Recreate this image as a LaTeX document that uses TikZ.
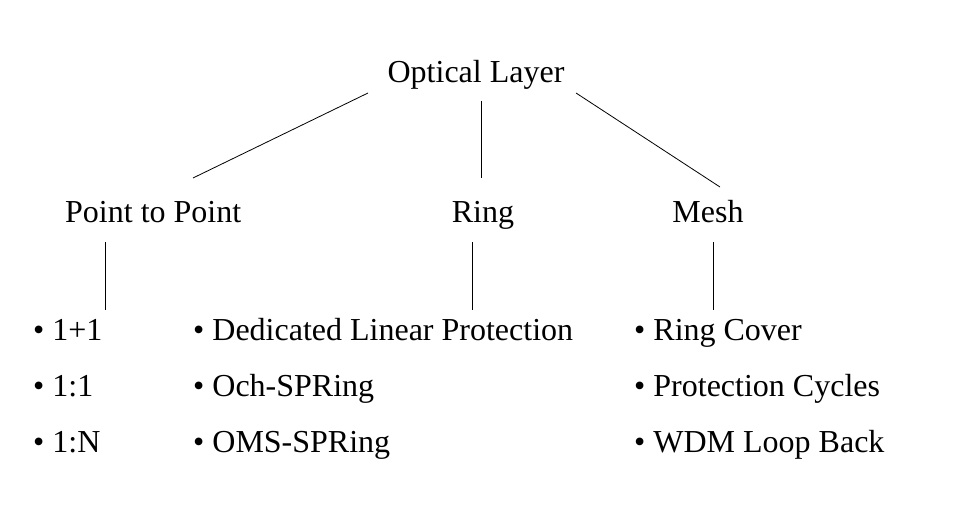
\documentclass[tikz,border=0pt]{standalone}
\usepackage{fontspec}
\setmainfont{Liberation Serif}
\begin{document}
\begin{tikzpicture}[x=1pt,y=-1pt,
  lbl/.style={inner sep=0pt,font=\fontsize{32}{37}\selectfont},
  conn/.style={line width=0.8pt,black}]
\useasboundingbox[fill=white] (0,0) rectangle (959,527);
% headings
\node[lbl,anchor=base] (opt) at (476,82) {Optical Layer};
\node[lbl,anchor=base west] (ptp) at (65,222) {Point to Point};
\node[lbl,anchor=base] (ring) at (483,222) {Ring};
\node[lbl,anchor=base] (mesh) at (708,222) {Mesh};
% items
\node[lbl,anchor=base west] (a1) at (33,340) {• 1+1};
\node[lbl,anchor=base west] (a2) at (33,396) {• 1:1};
\node[lbl,anchor=base west] (a3) at (33,452) {• 1:N};
\node[lbl,anchor=base west] (b1) at (193,340) {• Dedicated Linear Protection};
\node[lbl,anchor=base west] (b2) at (193,396) {• Och-SPRing};
\node[lbl,anchor=base west] (b3) at (193,452) {• OMS-SPRing};
\node[lbl,anchor=base west] (c1) at (634,340) {• Ring Cover};
\node[lbl,anchor=base west] (c2) at (634,396) {• Protection Cycles};
\node[lbl,anchor=base west] (c3) at (634,452) {• WDM Loop Back};
% connector endpoints
\coordinate (o1) at (368,93);
\coordinate (p1) at (193,178);
\coordinate (o2) at (481,101);
\coordinate (r1) at (481,178);
\coordinate (o3) at (576,93);
\coordinate (m1) at (720,187);
\coordinate (p2) at (105,242);
\coordinate (p3) at (105,310);
\coordinate (r2) at (472,242);
\coordinate (r3) at (472,310);
\coordinate (m2) at (713,242);
\coordinate (m3) at (713,310);
\draw[conn] (o1) -- (p1);
\draw[conn] (o2) -- (r1);
\draw[conn] (o3) -- (m1);
\draw[conn] (p2) -- (p3);
\draw[conn] (r2) -- (r3);
\draw[conn] (m2) -- (m3);
\end{tikzpicture}
\end{document}
